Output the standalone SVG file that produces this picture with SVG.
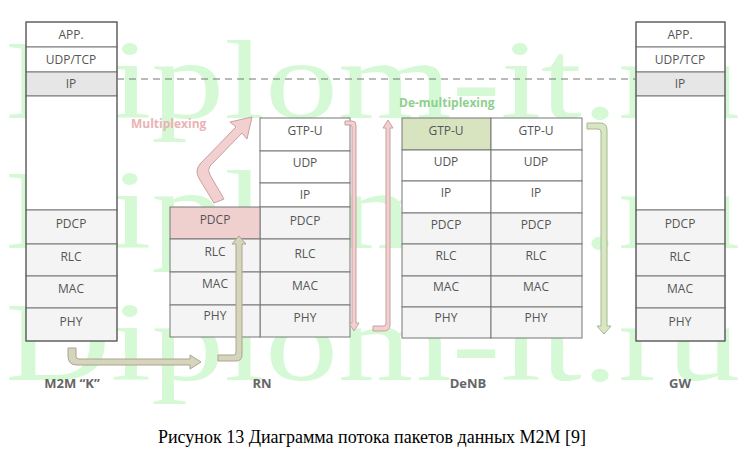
<svg xmlns="http://www.w3.org/2000/svg" width="744" height="460" viewBox="0 0 744 460">
<style>
.c{fill:#fff;stroke:#777;stroke-width:1}
.g{fill:#f4f4f4;stroke:#777;stroke-width:1}
.t{font-family:"Open Sans","Liberation Sans",sans-serif;font-size:12px;fill:#555;text-anchor:middle}
.l{font-family:"Open Sans","Liberation Sans",sans-serif;font-size:13px;font-weight:bold;fill:#666;text-anchor:middle}
.w{font-family:"Liberation Serif",serif;font-size:112px;fill:#c8f7c8;opacity:0.75}
.pa{fill:#f2d0d0;stroke:#c9a0a0;stroke-width:1}
.ta{fill:#d6d4bc;stroke:#a8a68c;stroke-width:1}
.ga{fill:#d8e6c2;stroke:#a6b88e;stroke-width:1}
</style>
<rect width="744" height="460" fill="#fff"/>
<g id="watermark">
<text class="w" x="5" y="118" textLength="735" lengthAdjust="spacingAndGlyphs">Diplom-it.ru</text>
<text class="w" x="5" y="248" textLength="735" lengthAdjust="spacingAndGlyphs">Diplom-it.ru</text>
<text class="w" x="5" y="380" textLength="735" lengthAdjust="spacingAndGlyphs">Diplom-it.ru</text>
</g>
<g id="m2m">
<rect class="c" x="26" y="22" width="91" height="25"/><text class="t" x="71" y="39">APP.</text>
<rect class="c" x="26" y="47" width="91" height="25"/><text class="t" x="71" y="64">UDP/TCP</text>
<rect x="26" y="72" width="91" height="24" fill="#e6e6e6" stroke="#777"/><text class="t" x="71" y="88">IP</text>
<rect class="c" x="26" y="96" width="91" height="114"/>
<rect class="g" x="26" y="210" width="91" height="34"/><text class="t" x="71" y="228">PDCP</text>
<rect class="g" x="26" y="244" width="91" height="32"/><text class="t" x="71" y="261">RLC</text>
<rect class="g" x="26" y="276" width="91" height="32"/><text class="t" x="71" y="293">MAC</text>
<rect class="g" x="26" y="308" width="91" height="33"/><text class="t" x="71" y="326">PHY</text>
<rect x="26" y="22" width="91" height="319" fill="none" stroke="#555"/>
<text class="l" x="72" y="388">M2M “K”</text>
</g>
<g id="rn">
<rect class="c" x="260" y="118" width="90" height="33"/><text class="t" x="305" y="135">GTP-U</text>
<rect class="c" x="260" y="151" width="90" height="32"/><text class="t" x="305" y="167">UDP</text>
<rect class="c" x="260" y="183" width="90" height="24"/><text class="t" x="305" y="199">IP</text>
<rect class="g" x="260" y="207" width="90" height="32"/><text class="t" x="305" y="225">PDCP</text>
<rect class="g" x="260" y="239" width="90" height="33"/><text class="t" x="305" y="258">RLC</text>
<rect class="g" x="260" y="272" width="90" height="33"/><text class="t" x="305" y="290">MAC</text>
<rect class="g" x="260" y="305" width="90" height="32"/><text class="t" x="305" y="322">PHY</text>
<rect x="170" y="207" width="90" height="32" fill="#f0cfcf" stroke="#777"/><text class="t" x="215" y="224">PDCP</text>
<rect class="g" x="170" y="239" width="90" height="33"/><text class="t" x="215" y="256">RLC</text>
<rect class="g" x="170" y="272" width="90" height="33"/><text class="t" x="215" y="288">MAC</text>
<rect class="g" x="170" y="305" width="90" height="32"/><text class="t" x="215" y="320">PHY</text>
<text class="l" x="262" y="388">RN</text>
</g>
<g id="denb">
<rect x="402" y="118" width="89" height="32" fill="#d8e4c0" stroke="#777"/><text class="t" x="446" y="135">GTP-U</text>
<rect class="c" x="491" y="118" width="91" height="32"/><text class="t" x="536" y="135">GTP-U</text>
<rect class="c" x="402" y="150" width="89" height="31"/><text class="t" x="446" y="166">UDP</text>
<rect class="c" x="491" y="150" width="91" height="31"/><text class="t" x="536" y="166">UDP</text>
<rect class="c" x="402" y="181" width="89" height="32"/><text class="t" x="446" y="197">IP</text>
<rect class="c" x="491" y="181" width="91" height="32"/><text class="t" x="536" y="197">IP</text>
<rect class="g" x="402" y="213" width="89" height="31"/><text class="t" x="446" y="229">PDCP</text>
<rect class="g" x="491" y="213" width="91" height="31"/><text class="t" x="536" y="229">PDCP</text>
<rect class="g" x="402" y="244" width="89" height="32"/><text class="t" x="446" y="260">RLC</text>
<rect class="g" x="491" y="244" width="91" height="32"/><text class="t" x="536" y="260">RLC</text>
<rect class="g" x="402" y="276" width="89" height="31"/><text class="t" x="446" y="291">MAC</text>
<rect class="g" x="491" y="276" width="91" height="31"/><text class="t" x="536" y="291">MAC</text>
<rect class="g" x="402" y="307" width="89" height="31"/><text class="t" x="446" y="322">PHY</text>
<rect class="g" x="491" y="307" width="91" height="31"/><text class="t" x="536" y="322">PHY</text>
<text class="l" x="468" y="388">DeNB</text>
</g>
<g id="gw">
<rect class="c" x="636" y="22" width="89" height="25"/><text class="t" x="680" y="39">APP.</text>
<rect class="c" x="636" y="47" width="89" height="25"/><text class="t" x="680" y="64">UDP/TCP</text>
<rect x="636" y="72" width="89" height="24" fill="#e6e6e6" stroke="#777"/><text class="t" x="680" y="88">IP</text>
<rect class="c" x="636" y="96" width="89" height="114"/>
<rect class="g" x="636" y="210" width="89" height="34"/><text class="t" x="680" y="228">PDCP</text>
<rect class="g" x="636" y="244" width="89" height="32"/><text class="t" x="680" y="261">RLC</text>
<rect class="g" x="636" y="276" width="89" height="32"/><text class="t" x="680" y="293">MAC</text>
<rect class="g" x="636" y="308" width="89" height="33"/><text class="t" x="680" y="326">PHY</text>
<rect x="636" y="22" width="89" height="319" fill="none" stroke="#555"/>
<text class="l" x="680" y="388">GW</text>
</g>
<g id="connectors">
<line x1="117" y1="79" x2="636" y2="79" stroke="#777" stroke-dasharray="7,5"/>
<text x="131" y="128" font-family="Open Sans,Liberation Sans,sans-serif" font-size="12" font-weight="bold" fill="#e8b4b4">Multiplexing</text>
<text x="399" y="107" font-family="Open Sans,Liberation Sans,sans-serif" font-size="12" font-weight="bold" fill="#8fd08f">De-multiplexing</text>
<path class="pa" d="M214,203 L200,180 Q194,171 200,164 L236,127 L230,122 L252,117 L247,139 L242,133 L210,166 Q207,170 210,175 L224,199 Z"/>
<path class="ta" d="M68,348 L76,348 L76,356 Q76,359 79,359 L190,359 L190,355 L201,362 L190,369 L190,365 L77,365 Q68,365 68,356 Z"/>
<path class="ta" d="M218,355 L234,355 Q236,355 236,352 L236,244 L232,244 L239,236 L246,244 L242,244 L242,355 Q242,361 236,361 L218,361 Z"/>
<path class="pa" d="M345,121 L352,121 Q356,121 356,125 L356,323 L359,323 L354,331 L349,323 L352,323 L352,127 Q352,125 350,125 L345,125 Z"/>
<path class="pa" d="M373,326 L384,326 Q386,326 386,323 L386,128 L383,128 L388,120 L393,128 L390,128 L390,325 Q390,331 384,331 L373,331 Z"/>
<path class="ga" d="M587,123 L600,123 Q607,123 607,130 L607,326 L611,326 L604,334 L597,326 L601,326 L601,132 Q601,129 598,129 L587,129 Z"/>
</g>
<text x="372" y="443" font-family="Liberation Serif,serif" font-size="18" fill="#000" text-anchor="middle">Рисунок 13 Диаграмма потока пакетов данных M2M [9]</text>
</svg>
